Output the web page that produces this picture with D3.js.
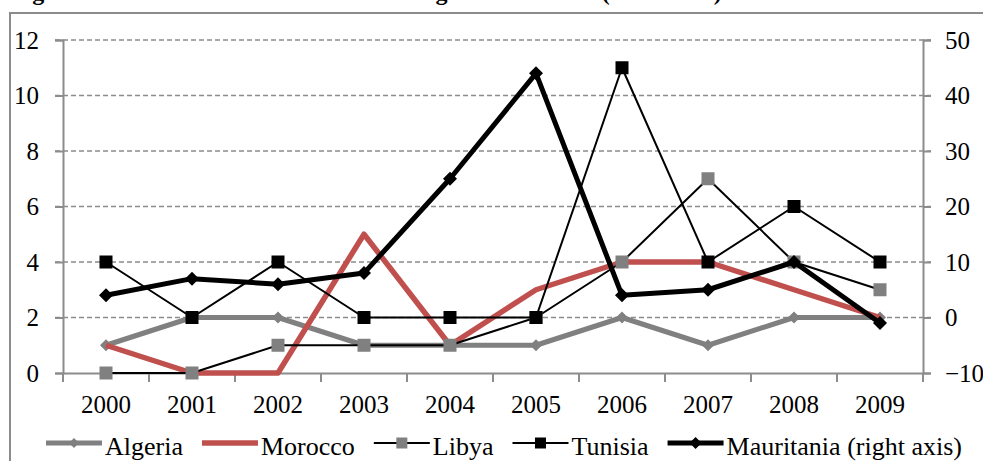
<!DOCTYPE html>
<html>
<head>
<meta charset="utf-8">
<script src="https://cdn.jsdelivr.net/npm/d3@7"></script>
<style>
  body { margin: 0; background: #fff; }
  svg { display: block; font-family: "Liberation Serif", "Times New Roman", serif; }
</style>
</head>
<body>
<div class="chart"></div>
<script>
const years = ["2000","2001","2002","2003","2004","2005","2006","2007","2008","2009"];
const algeria = [1, 2, 2, 1, 1, 1, 2, 1, 2, 2];
const morocco = [1, 0, 0, 5, 1, 3, 4, 4, 3, 2];
const libya = [0, 0, 1, 1, 1, 2, 4, 7, 4, 3];
const tunisia = [4, 2, 4, 2, 2, 2, 11, 4, 6, 4];
const mauritania = [4, 7, 6, 8, 25, 44, 4, 5, 10, -1];   // right axis
const leftTicks = [0, 2, 4, 6, 8, 10, 12];
const rightTicks = [-10, 0, 10, 20, 30, 40, 50];

const width = 983, height = 461;
const margin = {top: 40, right: 60, bottom: 88, left: 63};

const svg = d3.select(".chart").append("svg")
    .attr("width", width)
    .attr("height", height);

// title, mostly cut off at the top edge like in the original
svg.append("text")
    .attr("x", 11)
    .attr("y", 0)
    .style("font-size", "24px")
    .style("font-weight", "bold")
    .text("Figure 4: Number of trade reforms in Maghreb countries (2000-2009)");

// outer frame
svg.append("rect")
    .attr("x", 10).attr("y", 13)
    .attr("width", 1000).attr("height", 500)
    .attr("fill", "none")
    .attr("stroke", "#8c8c8c")
    .attr("stroke-width", 2);

const x = d3.scaleBand()
    .domain(years)
    .range([margin.left, width - margin.right]);

const yL = d3.scaleLinear()
    .domain([0, 12])
    .range([height - margin.bottom, margin.top]);

const yR = d3.scaleLinear()
    .domain([-10, 50])
    .range([height - margin.bottom, margin.top]);

const x0 = margin.left, x1 = width - margin.right;

// gridlines
svg.append("g")
    .selectAll("line")
    .data(leftTicks.filter(d => d > 0))
    .join("line")
    .attr("x1", x0 - 8).attr("x2", x1 + 8)
    .attr("y1", d => yL(d)).attr("y2", d => yL(d))
    .attr("stroke", "#8c8c8c")
    .attr("stroke-width", 1.5)
    .attr("stroke-dasharray", "5,3");

// left axis
let yAxisL = d3.axisLeft(yL).tickValues(leftTicks).tickSize(8).tickPadding(16);
svg.append("g")
    .attr("class", "axis")
    .attr("transform", `translate(${x0},0)`)
    .call(yAxisL);

// right axis
let yAxisR = d3.axisRight(yR).tickValues(rightTicks).tickSize(8).tickPadding(14);
svg.append("g")
    .attr("class", "axis")
    .attr("transform", `translate(${x1},0)`)
    .call(yAxisR);

// bottom axis
let xAxis = d3.axisBottom(x).tickSize(0).tickPadding(22);
svg.append("g")
    .attr("class", "axis")
    .attr("transform", `translate(0,${height - margin.bottom})`)
    .call(xAxis);

// boundary ticks of the category axis
svg.append("g")
    .selectAll("line")
    .data(years.map(d => x(d)).concat([x1]))
    .join("line")
    .attr("x1", d => d).attr("x2", d => d)
    .attr("y1", height - margin.bottom).attr("y2", height - margin.bottom + 9)
    .attr("stroke", "#8c8c8c")
    .attr("stroke-width", 2);

svg.selectAll(".axis path, .axis line")
    .attr("stroke", "#8c8c8c")
    .attr("stroke-width", 2);
svg.selectAll(".axis path").attr("d", function () {
    return d3.select(this).attr("d").replace(/V6|V-6/g, "").replace(/H-6|H6/g, "");
});
svg.selectAll(".axis text")
    .attr("fill", "#000")
    .style("font-size", "25px")
    .style("font-family", "Liberation Serif, serif");

const cx = d => x(d) + x.bandwidth() / 2;

const series = [
    {name: "Algeria", values: algeria, scale: yL, color: "#808080", width: 5, marker: "diamond", mColor: "#808080", mSize: 10},
    {name: "Morocco", values: morocco, scale: yL, color: "#c0504d", width: 5.5, marker: null},
    {name: "Libya", values: libya, scale: yL, color: "#000", width: 2, marker: "square", mColor: "#808080", mSize: 13},
    {name: "Tunisia", values: tunisia, scale: yL, color: "#000", width: 2, marker: "square", mColor: "#000", mSize: 13},
    {name: "Mauritania (right axis)", values: mauritania, scale: yR, color: "#000", width: 5, marker: "diamond", mColor: "#000", mSize: 12}
];

function drawMarker(g, type, px, py, size, color) {
    if (type == "square") {
        g.append("rect")
            .attr("x", px - size / 2).attr("y", py - size / 2)
            .attr("width", size).attr("height", size)
            .attr("fill", color);
    } else if (type == "diamond") {
        const h = size / 2 + 1;
        g.append("path")
            .attr("d", `M${px},${py - h}L${px + h},${py}L${px},${py + h}L${px - h},${py}Z`)
            .attr("fill", color);
    }
}

series.forEach(s => {
    const g = svg.append("g");
    const line = d3.line()
        .x((d, i) => cx(years[i]))
        .y(d => s.scale(d));
    g.append("path")
        .datum(s.values)
        .attr("d", line)
        .attr("fill", "none")
        .attr("stroke", s.color)
        .attr("stroke-width", s.width)
        .attr("stroke-linejoin", "round");
    if (s.marker) {
        s.values.forEach((v, i) => drawMarker(g, s.marker, cx(years[i]), s.scale(v), s.mSize, s.mColor));
    }
});

// legend
const legend = svg.append("g");
let lx = 46;
const ly = 443;
series.forEach(s => {
    legend.append("line")
        .attr("x1", lx).attr("x2", lx + 56)
        .attr("y1", ly).attr("y2", ly)
        .attr("stroke", s.color)
        .attr("stroke-width", s.width);
    if (s.marker) drawMarker(legend, s.marker, lx + 28, ly, s.mSize - 2, s.mColor);
    const t = legend.append("text")
        .attr("x", lx + 59)
        .attr("y", ly + 12)
        .style("font-size", "26px")
        .text(s.name);
    lx += 59 + t.node().getComputedTextLength() + 19;
});
</script>
</body>
</html>
